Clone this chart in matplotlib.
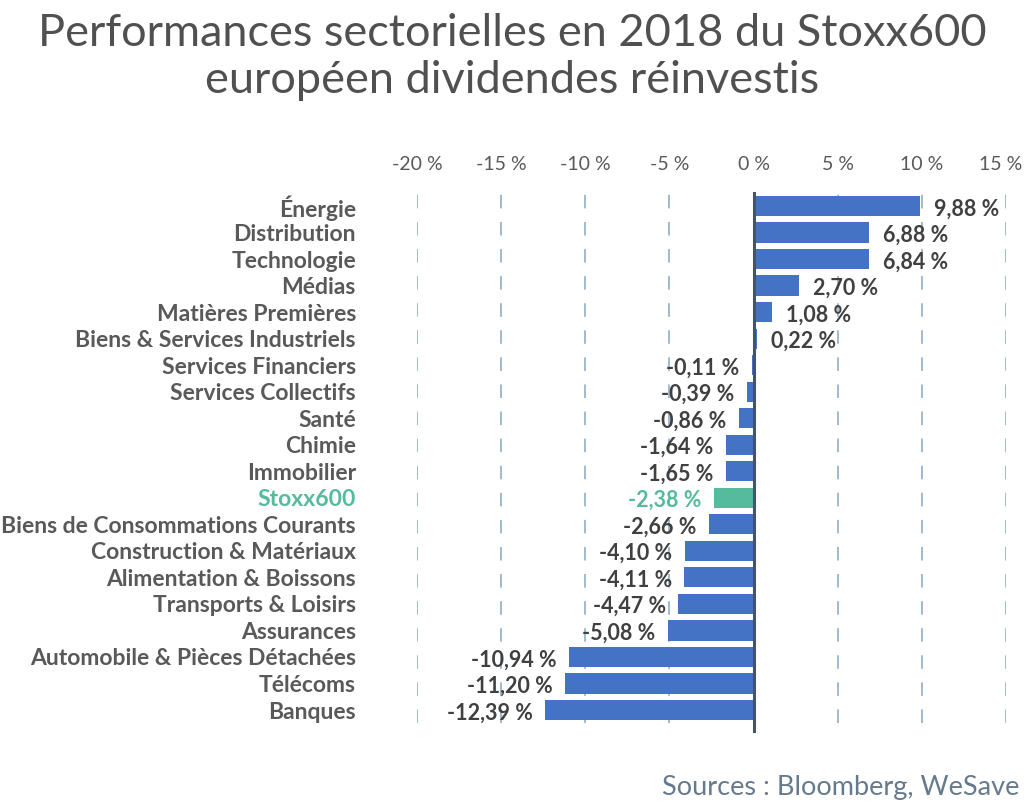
import matplotlib
matplotlib.use("Agg")
import matplotlib.pyplot as plt
from matplotlib.transforms import ScaledTranslation

categories = ["Énergie", "Distribution", "Technologie", "Médias", "Matières Premières",
              "Biens & Services Industriels", "Services Financiers", "Services Collectifs",
              "Santé", "Chimie", "Immobilier", "Stoxx600", "Biens de Consommations Courants",
              "Construction & Matériaux", "Alimentation & Boissons", "Transports & Loisirs",
              "Assurances", "Automobile & Pièces Détachées", "Télécoms", "Banques"]
values = [9.88, 6.88, 6.84, 2.70, 1.08, 0.22, -0.11, -0.39, -0.86, -1.64, -1.65, -2.38,
          -2.66, -4.10, -4.11, -4.47, -5.08, -10.94, -11.20, -12.39]
highlight = "Stoxx600"
xticks = [-20, -15, -10, -5, 0, 5, 10, 15]
xtick_labels = ["-20 %", "-15 %", "-10 %", "-5 %", "0 %", "5 %", "10 %", "15 %"]
title = "Performances sectorielles en 2018 du Stoxx600\neuropéen dividendes réinvestis"
source = "Sources : Bloomberg, WeSave"

BLUE = "#4472C4"
TEAL = "#55BB9C"
LABEL = "#595959"
VAL = "#404040"
FAM = ["Lato", "DejaVu Sans"]

fig = plt.figure(figsize=(10.24, 8.11), dpi=100)
ax = fig.add_axes([417/1024, 1-723.3/811, (1006-417)/1024, 530.6/811])

ypos = list(range(len(categories)))
colors = [TEAL if c == highlight else BLUE for c in categories]
ax.barh(ypos, values, height=0.76, color=colors, zorder=2)

ax.set_xlim(-20, 15)
ax.set_ylim(len(categories) - 0.5, -0.5)
ax.set_xticks(xticks)
ax.set_xticklabels(xtick_labels)
ax.xaxis.tick_top()
ax.tick_params(axis="x", length=0, pad=14, labelsize=14, labelcolor=LABEL)
xlbls = ax.get_xticklabels()
for lbl in xlbls:
    lbl.set_family(FAM)
xlbls[-1].set_transform(xlbls[-1].get_transform() +
                        ScaledTranslation(-0.05, 0, fig.dpi_scale_trans))

ax.set_yticks(ypos)
ax.set_yticklabels(categories)
ax.tick_params(axis="y", length=0, pad=44, labelsize=16.5)
for lbl, c in zip(ax.get_yticklabels(), categories):
    lbl.set_family(FAM)
    lbl.set_fontweight("bold")
    lbl.set_color(TEAL if c == highlight else LABEL)

for s in ax.spines.values():
    s.set_visible(False)

for x in xticks:
    if x == 0:
        continue
    ax.axvline(x, color="#9AB4CC", lw=1.3, dashes=(7.5, 7.5), zorder=1)
ax.axvline(0, color="#44546A", lw=2.2, zorder=3, ymin=-0.015, ymax=1.0, clip_on=False)

for y, v, c in zip(ypos, values, categories):
    txt = f"{v:.2f}".replace(".", ",") + " %"
    col = TEAL if c == highlight else VAL
    if v >= 0:
        ax.annotate(txt, (v, y), xytext=(10, -2), textcoords="offset points",
                    ha="left", va="center", fontsize=15.5, fontweight="bold",
                    color=col, family=FAM, zorder=4)
    else:
        ax.annotate(txt, (v, y), xytext=(-9, -2), textcoords="offset points",
                    ha="right", va="center", fontsize=15.5, fontweight="bold",
                    color=col, family=FAM, zorder=4)

fig.text(0.5, 1-57/811, title, ha="center", va="center", fontsize=32.5,
         color="#505050", family=FAM, fontweight="normal",
         linespacing=1.2)
fig.text(1019/1024, 1-787/811, source, ha="right", va="center", fontsize=19.5,
         color="#667A8F", family=FAM)

fig.savefig("out.png", dpi=100, facecolor="white")
